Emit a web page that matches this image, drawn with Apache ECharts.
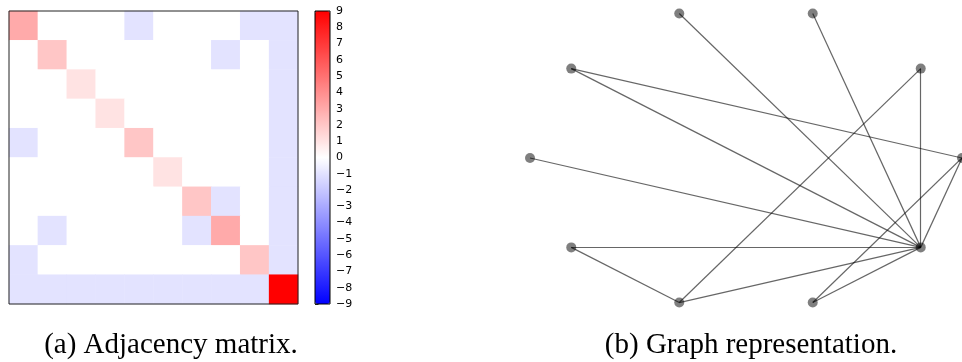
<!DOCTYPE html>
<html><head><meta charset="utf-8">
<script src="https://cdn.jsdelivr.net/npm/echarts@6/dist/echarts.min.js"></script>
<style>html,body{margin:0;padding:0;background:#fff}#c{width:962px;height:362px}</style>
</head><body><div id="c"></div>
<script>
// Laplacian-style matrix (rows top to bottom)
const matrix = [
  [ 3, 0, 0, 0,-1, 0, 0, 0,-1,-1],
  [ 0, 2, 0, 0, 0, 0, 0,-1, 0,-1],
  [ 0, 0, 1, 0, 0, 0, 0, 0, 0,-1],
  [ 0, 0, 0, 1, 0, 0, 0, 0, 0,-1],
  [-1, 0, 0, 0, 2, 0, 0, 0, 0,-1],
  [ 0, 0, 0, 0, 0, 1, 0, 0, 0,-1],
  [ 0, 0, 0, 0, 0, 0, 2,-1, 0,-1],
  [ 0,-1, 0, 0, 0, 0,-1, 3, 0,-1],
  [-1, 0, 0, 0, 0, 0, 0, 0, 2,-1],
  [-1,-1,-1,-1,-1,-1,-1,-1,-1, 9]
];
const nodeIds = ['0','1','2','3','4','5','6','7','8','9'];
// node positions (circular layout)
const nodeX = [1.0, 0.809, 0.309, -0.309, -0.809, -1.0, -0.809, -0.309, 0.309, 0.809];
const nodeY = [0.0, 0.588, 0.951, 0.951, 0.588, 0.0, -0.588, -0.951, -0.951, -0.588];
const colorbarMin = -9, colorbarMax = 9;
const captionA = '(a) Adjacency matrix.';
const captionB = '(b) Graph representation.';

const heatData = [];
matrix.forEach((row, r) => row.forEach((v, c) => heatData.push([c, r, v])));
const links = [];
matrix.forEach((row, r) => row.forEach((v, c) => { if (c > r && v !== 0) links.push({source: r, target: c}); }));
const nodes = nodeIds.map((id, i) => ({name: id, value: [nodeX[i], nodeY[i]]}));

const chart = echarts.init(document.getElementById('c'), null, {renderer: 'canvas'});
const capStyle = {fontFamily: 'Liberation Serif', fontSize: 29, fontWeight: 'normal', color: '#000'};
chart.setOption({
  animation: false,
  backgroundColor: '#fff',
  title: [
    {text: captionA, left: 166, top: 326, textAlign: 'center', textStyle: capStyle},
    {text: captionB, left: 746, top: 326, textAlign: 'center', textStyle: capStyle}
  ],
  grid: [
    {left: 9, top: 11, width: 289, height: 293, show: true, borderColor: '#222', borderWidth: 1, backgroundColor: 'transparent', z: 5},
    {left: 315, top: 11, width: 15, height: 293, show: true, borderColor: '#000', borderWidth: 1, backgroundColor: 'transparent', z: 6},
    {left: 530, top: 6, width: 433, height: 304, show: false}
  ],
  xAxis: [
    {gridIndex: 0, type: 'category', data: nodeIds, show: false},
    {gridIndex: 1, type: 'value', min: 0, max: 1, show: false},
    {gridIndex: 2, type: 'value', min: -1, max: 1, show: false}
  ],
  yAxis: [
    {gridIndex: 0, type: 'category', data: nodeIds, inverse: true, show: false},
    {gridIndex: 1, type: 'value', min: colorbarMin, max: colorbarMax, interval: 1, position: 'right',
     axisLine: {show: false}, splitLine: {show: false},
     axisTick: {show: true, inside: false, length: 3.5, lineStyle: {color: '#000', width: 0.8}},
     axisLabel: {show: true, margin: 6, fontSize: 11, color: '#000', fontFamily: 'DejaVu Sans',
       formatter: v => (v < 0 ? '\u2212' + Math.abs(v) : String(v))}},
    {gridIndex: 2, type: 'value', min: -1, max: 1, show: false}
  ],
  visualMap: {
    type: 'continuous', seriesIndex: 0, min: colorbarMin, max: colorbarMax,
    calculable: false, hoverLink: false, orient: 'vertical',
    left: 315, top: 11, itemWidth: 15, itemHeight: 293, padding: 0,
    inRange: {color: ['#0000ff', '#ffffff', '#ff0000']},
    textStyle: {fontSize: 0}, text: ['', '']
  },
  series: [
    {type: 'heatmap', xAxisIndex: 0, yAxisIndex: 0, data: heatData, itemStyle: {borderWidth: 0}, silent: true},
    {type: 'scatter', xAxisIndex: 1, yAxisIndex: 1, data: [], silent: true},
    {type: 'graph', coordinateSystem: 'cartesian2d', xAxisIndex: 2, yAxisIndex: 2,
     layout: 'none', data: nodes, links: links, symbol: 'circle', symbolSize: 10,
     itemStyle: {color: '#000', opacity: 0.5}, label: {show: false},
     lineStyle: {color: '#000', opacity: 0.6, width: 1.2, curveness: 0},
     emphasis: {disabled: true}, silent: true}
  ]
});
</script></body></html>
